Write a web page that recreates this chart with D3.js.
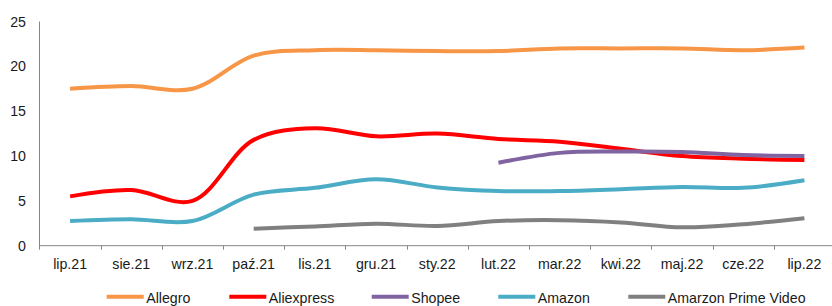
<!DOCTYPE html>
<html><head><meta charset="utf-8">
<script src="https://cdn.jsdelivr.net/npm/d3@7"></script>
<style>
html,body{margin:0;padding:0;background:#fff;}
svg{display:block;font-family:"Liberation Sans",Arial,sans-serif;}
</style></head>
<body>
<svg id="chart" width="832" height="306"></svg>
<script>
const categories = ["lip.21","sie.21","wrz.21","paź.21","lis.21","gru.21","sty.22","lut.22","mar.22","kwi.22","maj.22","cze.22","lip.22"];
const yTicks = [0,5,10,15,20,25];
const seriesNames = ["Allegro","Aliexpress","Shopee","Amazon","Amarzon Prime Video"];
const seriesColors = ["#F79646","#FF0000","#8064A2","#4BACC6","#808080"];
const allegro    = [17.5,17.8,17.5,21.2,21.8,21.8,21.7,21.7,22.0,22.0,22.0,21.8,22.1];
const aliexpress = [5.5,6.2,5.0,11.8,13.1,12.2,12.5,11.9,11.6,10.8,10.0,9.7,9.55];
const shopee     = [null,null,null,null,null,null,null,9.25,10.35,10.5,10.45,10.1,10.0];
const amazon     = [2.75,2.95,2.75,5.7,6.45,7.4,6.5,6.1,6.1,6.3,6.55,6.45,7.3];
const primeVideo = [null,null,null,1.9,2.15,2.45,2.2,2.75,2.85,2.6,2.05,2.4,3.05];
const seriesValues = [allegro, aliexpress, shopee, amazon, primeVideo];

const svg = d3.select("#chart");
const x = d3.scaleBand().domain(categories).range([39.5, 835]).padding(0);
const y = d3.scaleLinear().domain([0,25]).range([245.7, 21.5]);
const axisColor = "#868686";
const textColor = "#1a1a1a";
const fs = 14.2;

// y axis line
svg.append("line").attr("x1",39.5).attr("x2",39.5).attr("y1",y(25)).attr("y2",y(0)+4)
  .attr("stroke",axisColor).attr("stroke-width",1);
svg.append("g").selectAll("text").data(yTicks).join("text")
  .attr("x",26).attr("y",d=>y(d)).attr("dy","0.36em").attr("text-anchor","end")
  .attr("font-size",fs).attr("fill",textColor).text(d=>d);

// x axis
svg.append("line").attr("x1",39.5).attr("x2",835).attr("y1",y(0)).attr("y2",y(0))
  .attr("stroke",axisColor).attr("stroke-width",1);
svg.append("g").selectAll("line").data(categories.slice(1)).join("line")
  .attr("x1",d=>Math.round(x(d))+0.5).attr("x2",d=>Math.round(x(d))+0.5)
  .attr("y1",y(0)).attr("y2",y(0)+4).attr("stroke",axisColor);
svg.append("g").selectAll("text").data(categories).join("text")
  .attr("x",d=>x(d)+x.bandwidth()/2).attr("y",268.5).attr("text-anchor","middle")
  .attr("font-size",fs).attr("fill",textColor).text(d=>d);

// lines
const line = d3.line()
  .defined(d=>d.v!=null)
  .x(d=>x(d.c)+x.bandwidth()/2)
  .y(d=>y(d.v))
  .curve(d3.curveCatmullRom.alpha(0.5));
seriesValues.forEach((vals,i)=>{
  const data = categories.map((c,j)=>({c:c,v:vals[j]})).filter(d=>d.v!=null);
  svg.append("path").datum(data).attr("d",line).attr("fill","none")
    .attr("stroke",seriesColors[i]).attr("stroke-width",4).attr("stroke-linejoin","round");
});

// legend
const legendX = [106.7, 229.3, 371.7, 498.3, 628.3];
const lg = svg.append("g").selectAll("g").data(seriesNames).join("g")
  .attr("transform",(d,i)=>`translate(${legendX[i]},296.7)`);
lg.append("line").attr("x1",0).attr("x2",37).attr("y1",0).attr("y2",0)
  .attr("stroke",(d,i)=>seriesColors[i]).attr("stroke-width",4);
lg.append("text").attr("x",39.5).attr("y",0).attr("dy","0.45em")
  .attr("font-size",fs).attr("fill",textColor).text(d=>d);
</script>
</body></html>
